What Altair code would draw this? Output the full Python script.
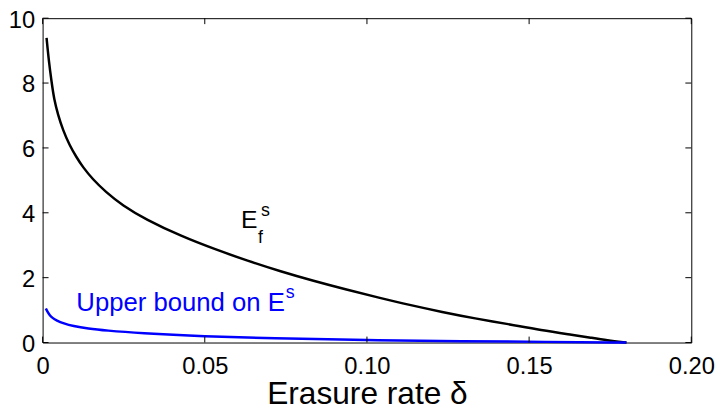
import altair as alt
import pandas as pd

# Black curve: E_f^s
delta_f = [0.00122, 0.00192, 0.00274, 0.00354, 0.00476, 0.00628, 0.00832, 0.0104, 0.0124, 0.0154,
           0.0195, 0.0246, 0.0317, 0.0429, 0.0530, 0.0632, 0.0734, 0.0835, 0.0937, 0.1038,
           0.1130, 0.1232, 0.1334, 0.1435, 0.1537, 0.1639, 0.1690, 0.1740, 0.1800]
ef = [9.39, 8.68, 8.05, 7.50, 7.02, 6.55, 6.08, 5.72, 5.41, 5.04,
      4.64, 4.23, 3.80, 3.27, 2.88, 2.52, 2.19, 1.90, 1.63, 1.38,
      1.16, 0.94, 0.74, 0.57, 0.38, 0.23, 0.15, 0.07, 0.00]

# Blue curve: upper bound on E^s
delta_b = [0.0010, 0.0016, 0.0022, 0.0030, 0.0043, 0.0065, 0.0093, 0.0140, 0.0195, 0.0297,
           0.0500, 0.0703, 0.0998, 0.1300, 0.1550, 0.1800]
eb = [1.05, 0.93, 0.84, 0.76, 0.68, 0.59, 0.51, 0.43, 0.37, 0.29,
      0.19, 0.13, 0.07, 0.04, 0.02, 0.00]

x_ticks = [0, 0.05, 0.10, 0.15, 0.20]
y_ticks = [0, 2, 4, 6, 8, 10]

# Annotations (data coordinates)
ann_x = [0.0612, 0.0673, 0.0664, 0.0104, 0.0750]
ann_y = [3.53, 3.90, 3.07, 0.98, 1.37]
ann_text = ["E", "s", "f", "Upper bound on E", "s"]
ann_size = [25, 18, 18, 26, 18]
ann_color = ["black", "black", "black", "#0000FF", "#0000FF"]

W, H = 656, 328
FONT = "Liberation Sans, Arial, Helvetica, sans-serif"
TL = 6
XT = "Erasure rate δ"

xs = alt.Scale(domain=[0, 0.2], nice=False, zero=False)
ys = alt.Scale(domain=[0, 10], nice=False, zero=False)

df_f = pd.DataFrame({"d": delta_f, "v": ef})
df_b = pd.DataFrame({"d": delta_b, "v": eb})
df_xt = pd.DataFrame({"d": x_ticks})
df_yt = pd.DataFrame({"v": y_ticks})
df_ann = pd.DataFrame({"d": ann_x, "v": ann_y, "text": ann_text, "size": ann_size, "color": ann_color})

x_axis = alt.Axis(values=x_ticks, ticks=False, domain=False, grid=False,
                  labelExpr="datum.value == 0 ? '0' : format(datum.value, '.2f')",
                  labelFontSize=24, labelFont=FONT, labelColor="black", labelPadding=12,
                  labelFlush=False, labelOverlap=False,
                  titleFontSize=32, titleFont=FONT, titleFontWeight="normal", titleColor="black",
                  titlePadding=1)
y_axis = alt.Axis(values=y_ticks, ticks=False, domain=False, grid=False,
                  labelFontSize=24, labelFont=FONT, labelColor="black", labelPadding=8,
                  labelOffset=2, labelFlush=False, labelOverlap=False)


def X(field="d"):
    return alt.X(f"{field}:Q", scale=xs, axis=x_axis, title=XT)


def Y(field="v"):
    return alt.Y(f"{field}:Q", scale=ys, axis=y_axis, title="")


line_f = alt.Chart(df_f).mark_line(color="black", strokeWidth=2.5, interpolate="basis").encode(
    x=X(), y=Y())
line_b = alt.Chart(df_b).mark_line(color="#0000FF", strokeWidth=2.5, interpolate="basis").encode(
    x=X(), y=Y())

tick_bottom = alt.Chart(df_xt).mark_rule(color="black", strokeWidth=1).encode(
    x=X(), y=alt.value(H), y2=alt.value(H - TL))
tick_top = alt.Chart(df_xt).mark_rule(color="black", strokeWidth=1).encode(
    x=X(), y=alt.value(0), y2=alt.value(TL))
tick_left = alt.Chart(df_yt).mark_rule(color="black", strokeWidth=1).encode(
    y=Y(), x=alt.value(0), x2=alt.value(TL))
tick_right = alt.Chart(df_yt).mark_rule(color="black", strokeWidth=1).encode(
    y=Y(), x=alt.value(W), x2=alt.value(W - TL))

ann = alt.Chart(df_ann).mark_text(align="left", baseline="alphabetic", font=FONT).encode(
    x=X(), y=Y(),
    text="text:N",
    size=alt.Size("size:Q", scale=None, legend=None),
    color=alt.Color("color:N", scale=None, legend=None),
)

chart = alt.layer(line_f, line_b, tick_bottom, tick_top, tick_left, tick_right, ann).properties(
    width=W, height=H,
    autosize=alt.AutoSizeParams(type="none"),
    padding={"left": 35, "top": 8, "right": 26, "bottom": 72},
    background="white",
).configure_view(stroke="black", strokeWidth=1)

chart.save("out.html", embed_options={"renderer": "svg", "actions": False})
